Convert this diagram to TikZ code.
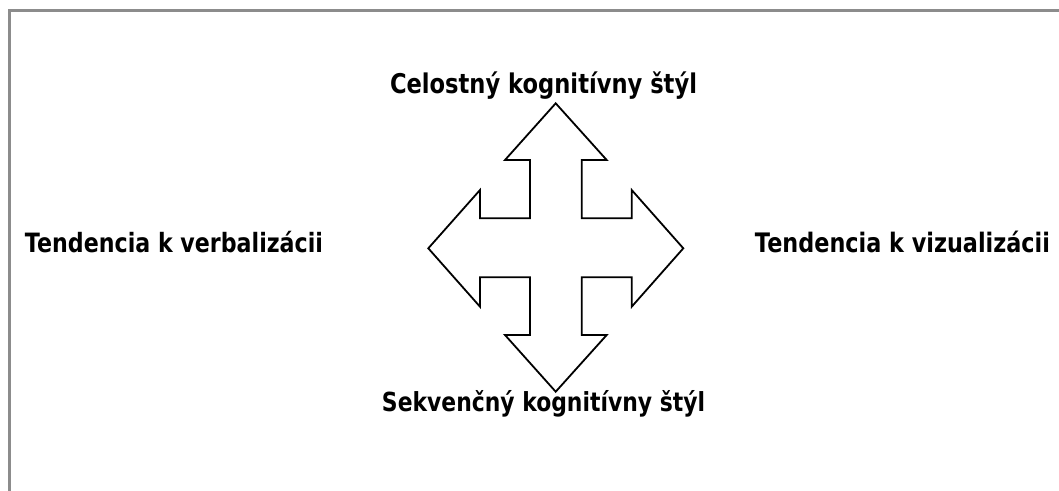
\documentclass[tikz,border=0pt]{standalone}
\usepackage{fontspec}
\setmainfont{DejaVu Sans}
\usepackage{graphicx}
\definecolor{framegray}{RGB}{140,140,140}
\tikzset{
  lbl/.style={anchor=base, inner sep=0pt, font=\bfseries\fontsize{18}{20}\selectfont},
  crossarrow/.style={draw=black, line width=1.8pt, line join=miter, fill=white},
  frameline/.style={draw=framegray, line width=3pt}
}
\newcommand{\lbltext}[2]{\resizebox{#1}{!}{\scalebox{1}[1.2]{#2}}}
\begin{document}
\begin{tikzpicture}[x=1pt,y=-1pt]
\useasboundingbox (0,0) rectangle (1059,490);
% frame (only top and left edges visible)
\coordinate (fbl) at (9,492);
\coordinate (ftl) at (9,10);
\coordinate (ftr) at (1061,10);
\draw[frameline] (fbl) -- (ftl) -- (ftr);
% four-way arrow
\draw[crossarrow]
  (555.7,103.3) -- (606.7,160) -- (581.7,160) -- (581.7,218.3) -- (631.7,218.3) -- (631.7,190)
  -- (683.3,248.3) -- (631.7,306.7) -- (631.7,277.3) -- (581.7,277.3) -- (581.7,335) -- (606.7,335)
  -- (555.7,391.7) -- (505,335) -- (530,335) -- (530,277.3) -- (480,277.3) -- (480,306.7)
  -- (428.3,248.3) -- (480,190) -- (480,218.3) -- (530,218.3) -- (530,160) -- (505,160) -- cycle;
% labels
\node[lbl] (top) at (543.5,93) {\lbltext{307pt}{Celostný kognitívny štýl}};
\node[lbl] (bottom) at (543.5,411.5) {\lbltext{323pt}{Sekvenčný kognitívny štýl}};
\node[lbl] (left) at (174,252) {\lbltext{298pt}{Tendencia k verbalizácii}};
\node[lbl] (right) at (902.5,252) {\lbltext{295pt}{Tendencia k vizualizácii}};
\end{tikzpicture}
\end{document}
